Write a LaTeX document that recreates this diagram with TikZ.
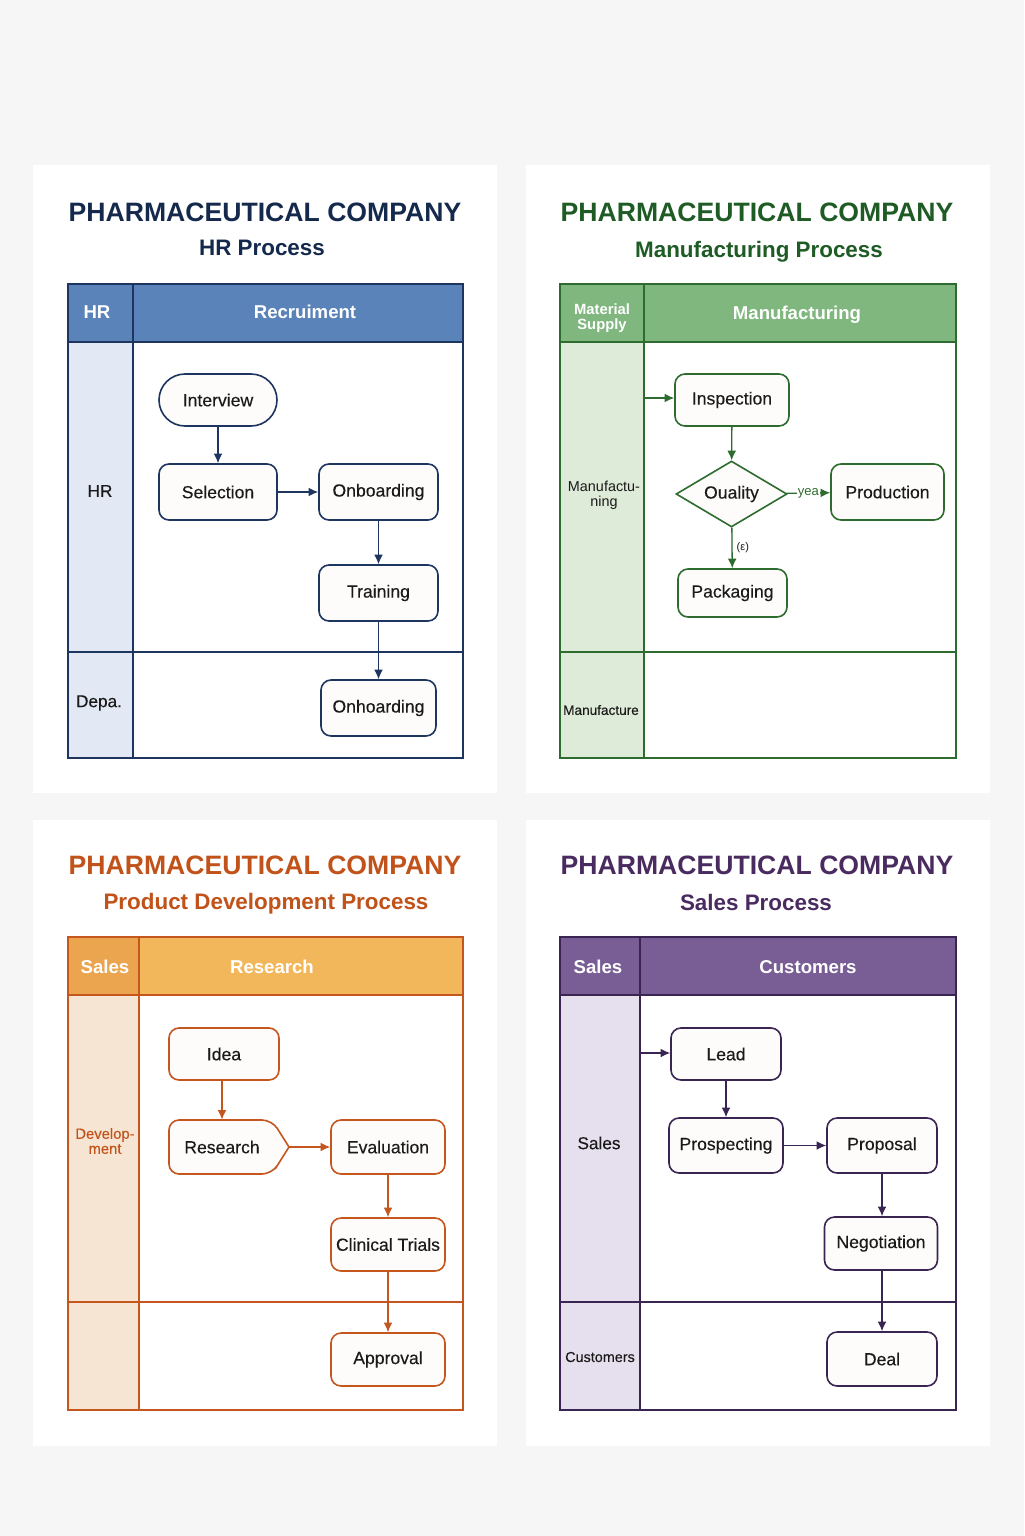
\documentclass[tikz,border=0pt]{standalone}
\usepackage{fontspec}
\setmainfont{Liberation Sans}
\newfontfamily\medfont{Liberation Sans}[FakeBold=0.25]
\usetikzlibrary{shapes.geometric,arrows.meta}
\definecolor{bgc}{HTML}{F6F6F6}
\definecolor{txt}{HTML}{1A1A1A}
% blue
\definecolor{hrtitle}{HTML}{14294C}
\definecolor{hrhead}{HTML}{5A83B9}
\definecolor{hrleft}{HTML}{E3E8F5}
\definecolor{hrline}{HTML}{1E3560}
% green
\definecolor{mftitle}{HTML}{1E5B25}
\definecolor{mfhead}{HTML}{7FB77E}
\definecolor{mfleft}{HTML}{DEEBD8}
\definecolor{mfline}{HTML}{2E6B2E}
% orange
\definecolor{pdtitle}{HTML}{C0521A}
\definecolor{pdhead}{HTML}{F2B75B}
\definecolor{pdheadl}{HTML}{EBA54F}
\definecolor{pdleft}{HTML}{F7E5D3}
\definecolor{pdline}{HTML}{C4561E}
% purple
\definecolor{sltitle}{HTML}{4A2B60}
\definecolor{slhead}{HTML}{785E95}
\definecolor{slleft}{HTML}{E5DFEE}
\definecolor{slline}{HTML}{3A2552}
\definecolor{nodefill}{HTML}{FDFCFB}
\begin{document}
\begin{tikzpicture}[x=0.5pt,y=-0.5pt,
  titlef/.style={font=\bfseries\fontsize{13.3}{15}\selectfont, inner sep=0pt},
  subf/.style={font=\bfseries\fontsize{11.2}{13}\selectfont, inner sep=0pt},
  headf/.style={font=\bfseries\fontsize{9.3}{11}\selectfont, text=white, inner sep=0pt},
  lanef/.style={font=\medfont\fontsize{8.6}{10}\selectfont, text=txt, inner sep=0pt, align=center},
  smallf/.style={font=\fontsize{7.2}{7.5}\selectfont, text=txt, inner sep=0pt, align=center},
  box/.style={draw, rounded corners=5pt, fill=nodefill, line width=0.8pt,
    font=\medfont\fontsize{8.8}{10}\selectfont, text=txt, inner sep=0pt},
  arr/.style={line width=0.65pt, -{Latex[length=4.8pt,width=4.4pt]}},
  frame/.style={line width=1pt},
  inner/.style={line width=0.8pt}
]
\fill[bgc] (0,0) rectangle (1024,1536);
\useasboundingbox (0,0) rectangle (1024,1536);
% panels
\fill[white] (33,165) rectangle (497,793);
\fill[white] (526,165) rectangle (990,793);
\fill[white] (33,820) rectangle (497,1446);
\fill[white] (526,820) rectangle (990,1446);

%================ Panel 1: HR =================
\node[titlef, text=hrtitle] (t1) at (265,212) {PHARMACEUTICAL COMPANY};
\node[subf, text=hrtitle] (s1) at (262,248) {HR Process};
\fill[hrleft] (68,342) rectangle (133,758);
\fill[hrhead] (68,284) rectangle (463,342);
\draw[hrline, inner] (68,342) -- (463,342);
\draw[hrline, inner] (133,284) -- (133,758);
\draw[hrline, inner] (68,652) -- (463,652);
\draw[hrline, frame] (68,284) rectangle (463,758);
\node[headf] (h1a) at (97,312) {HR};
\node[headf] (h1b) at (305,312) {Recruiment};
\node[lanef] (l1a) at (100,491) {HR};
\node[lanef] (l1b) at (99,703) {Depa.};
\node[box, draw=hrline, rounded corners=13pt, minimum width=59pt, minimum height=26pt] (iv) at (218,400) {Interview};
\node[box, draw=hrline, minimum width=59pt, minimum height=28pt] (sel) at (218,492) {Selection};
\node[box, draw=hrline, minimum width=59.5pt, minimum height=28pt] (onb) at (378.5,492) {Onboarding};
\node[box, draw=hrline, minimum width=59.5pt, minimum height=28pt] (trn) at (378.5,593) {Training};
\node[box, draw=hrline, minimum width=57.5pt, minimum height=28pt] (onh) at (378.5,708) {Onhoarding};
\draw[arr, hrline] (iv) -- (sel);
\draw[arr, hrline] (sel) -- (onb);
\draw[arr, hrline] (onb) -- (trn);
\draw[arr, hrline] (trn) -- (onh);

%================ Panel 2: Manufacturing =================
\node[titlef, text=mftitle] (t2) at (757,212) {PHARMACEUTICAL COMPANY};
\node[subf, text=mftitle] (s2) at (759,252) {Manufacturing Process};
\fill[mfleft] (560,342) rectangle (644,758);
\fill[mfhead] (560,284) rectangle (956,342);
\draw[mfline, inner] (560,342) -- (956,342);
\draw[mfline, inner] (644,284) -- (644,758);
\draw[mfline, inner] (560,652) -- (956,652);
\draw[mfline, frame] (560,284) rectangle (956,758);
\node[headf, font=\bfseries\fontsize{7.4}{7.5}\selectfont, align=center] (h2a) at (602,318) {Material\\Supply};
\node[headf] (h2b) at (797,315) {Manufacturing};
\node[smallf] (l2a) at (604,495) {Manufactu-\\ning};
\node[smallf, font=\medfont\fontsize{6.8}{7.5}\selectfont] (l2b) at (601,710) {Manufacture};
\node[box, draw=mfline, minimum width=57pt, minimum height=26pt] (insp) at (732,400) {Inspection};
\node[draw=mfline, diamond, fill=nodefill, line width=0.8pt, font=\medfont\fontsize{8.8}{10}\selectfont, text=txt,
      inner sep=0.5pt, aspect=1.68, minimum width=55.5pt, minimum height=33pt] (qual) at (731.5,494) {Ouality};
\node[box, draw=mfline, minimum width=56.5pt, minimum height=28pt] (prod) at (887.5,492) {Production};
\node[box, draw=mfline, minimum width=54.5pt, minimum height=24pt] (pack) at (732.5,593) {Packaging};
\coordinate (in2) at (644,398);
\draw[arr, mfline] (in2) -- (in2 -| insp.west);
\draw[arr, mfline] (insp) -- (qual);
\draw[arr, mfline] (qual) -- node[fill=white, inner sep=0.6pt, font=\fontsize{6.5}{7}\selectfont, text=mfline] (yea) {yea} (prod);
\draw[arr, mfline] (qual) -- node[right, xshift=2pt, inner sep=0pt, font=\fontsize{5.5}{6}\selectfont, text=txt] (eps) {(ε)} (pack);

%================ Panel 3: Product Development =================
\node[titlef, text=pdtitle] (t3) at (265,865) {PHARMACEUTICAL COMPANY};
\node[subf, text=pdtitle] (s3) at (266,904) {Product Development Process};
\fill[pdleft] (68,995) rectangle (139,1410);
\fill[pdhead] (68,937) rectangle (463,995);
\fill[pdheadl] (68,937) rectangle (139,995);
\draw[pdline, inner] (68,995) -- (463,995);
\draw[pdline, inner] (139,937) -- (139,1410);
\draw[pdline, inner] (68,1302) -- (463,1302);
\draw[pdline, frame] (68,937) rectangle (463,1410);
\node[headf] (h3a) at (105,967) {Sales};
\node[headf] (h3b) at (272,967) {Research};
\node[smallf, text=pdtitle, font=\medfont\fontsize{7.4}{7.5}\selectfont] (l3a) at (105,1141) {Develop-\\ment};
\node[box, draw=pdline, minimum width=55pt, minimum height=26pt] (idea) at (224,1054) {Idea};
\draw[pdline, line width=0.8pt, fill=nodefill, rounded corners=5pt]
  (280.5,1133.5) -- (272,1120) -- (169,1120) -- (169,1174) -- (272,1174) -- (280.5,1160.5)
  [sharp corners] -- (289,1147) -- cycle;
\node[inner sep=0pt, minimum height=27pt, font=\medfont\fontsize{8.8}{10}\selectfont, text=txt] (rs) at (222,1147) {Research};
\coordinate (rstip) at (289,1147);
\node[box, draw=pdline, minimum width=57pt, minimum height=27pt] (ev) at (388,1147) {Evaluation};
\node[box, draw=pdline, minimum width=57pt, minimum height=26.5pt] (ct) at (388,1244.5) {Clinical Trials};
\node[box, draw=pdline, minimum width=57pt, minimum height=26.5pt] (ap) at (388,1359.5) {Approval};
\draw[arr, pdline] (idea.south -| rs.north) -- (rs.north);
\draw[arr, pdline] (rstip) -- (ev.west);
\draw[arr, pdline] (ev) -- (ct);
\draw[arr, pdline] (ct) -- (ap);

%================ Panel 4: Sales =================
\node[titlef, text=sltitle] (t4) at (757,865) {PHARMACEUTICAL COMPANY};
\node[subf, text=sltitle] (s4) at (756,902) {Sales Process};
\fill[slleft] (560,995) rectangle (640,1410);
\fill[slhead] (560,937) rectangle (956,995);
\draw[slline, inner] (560,995) -- (956,995);
\draw[slline, inner] (640,937) -- (640,1410);
\draw[slline, inner] (560,1302) -- (956,1302);
\draw[slline, frame] (560,937) rectangle (956,1410);
\node[headf] (h4a) at (598,967) {Sales};
\node[headf] (h4b) at (808,967) {Customers};
\node[lanef] (l4a) at (599,1143) {Sales};
\node[smallf, font=\medfont\fontsize{7.2}{7.5}\selectfont] (l4b) at (600,1357) {Customers};
\node[box, draw=slline, minimum width=55pt, minimum height=26pt] (lead) at (726,1054) {Lead};
\node[box, draw=slline, minimum width=57pt, minimum height=27.5pt] (pros) at (726,1145.5) {Prospecting};
\node[box, draw=slline, minimum width=55pt, minimum height=27.5pt] (prop) at (882,1145.5) {Proposal};
\node[box, draw=slline, minimum width=56.5pt, minimum height=26.5pt] (neg) at (881,1243.5) {Negotiation};
\node[box, draw=slline, minimum width=55pt, minimum height=27pt] (deal) at (882,1359) {Deal};
\coordinate (in4) at (640,1053);
\draw[arr, slline] (in4) -- (in4 -| lead.west);
\draw[arr, slline] (lead) -- (pros);
\draw[arr, slline] (pros) -- (prop);
\draw[arr, slline] (prop.south) -- (prop.south |- neg.north);
\draw[arr, slline] (neg.south -| prop.south) -- (deal.north);
\end{tikzpicture}
\end{document}
